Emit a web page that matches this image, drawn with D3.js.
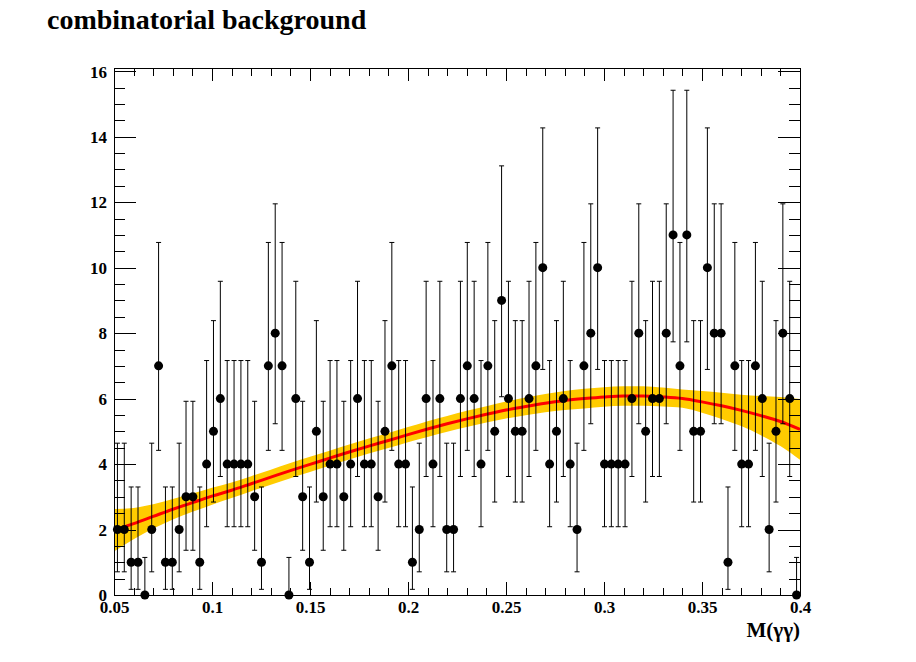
<!DOCTYPE html>
<html>
<head>
<meta charset="utf-8">
<script src="https://cdn.jsdelivr.net/npm/d3@7"></script>
<style>
  body { margin: 0; background: #fff; }
  svg { display: block; }
  text { font-family: "Liberation Serif", "Times New Roman", serif; font-weight: bold; fill: #000; }
</style>
</head>
<body>
<div id="chart"></div>
<script>
// histogram: 100 bins between 0.05 and 0.4
const binLow = 0.05
const binHigh = 0.4
const counts = [
  2, 2, 1, 1, 0, 2, 7, 1, 1, 2, 3, 3, 1, 4, 5, 6, 4,
  4, 4, 4, 3, 1, 7, 8, 7, 0, 6, 3, 1, 5, 3, 4, 4, 3,
  4, 6, 4, 4, 3, 5, 7, 4, 4, 1, 2, 6, 4, 6, 2, 2, 6,
  7, 6, 4, 7, 5, 9, 6, 5, 5, 6, 7, 10, 4, 5, 6, 4,
  2, 7, 8, 10, 4, 4, 4, 4, 6, 8, 5, 6, 6, 8, 11, 7, 11,
  5, 5, 10, 8, 8, 1, 7, 4, 4, 7, 6, 2, 5, 8, 6, 0
]

// 68% poisson interval per count (lower / upper edge of the error bar)
const poissonLow = [0, 0.173, 0.708, 1.367, 2.086, 2.840, 3.620, 4.419, 5.232, 6.057, 6.891, 7.734]
const poissonHigh = [1.148, 3.300, 4.638, 5.918, 7.163, 8.382, 9.584, 10.77, 11.95, 13.11, 14.27, 15.42]

// fitted curve and its error band
const fitX = [0.05, 0.06, 0.07, 0.08, 0.09, 0.10, 0.11, 0.12, 0.13, 0.14, 0.15, 0.16,
  0.17, 0.18, 0.19, 0.20, 0.21, 0.22, 0.23, 0.24, 0.25, 0.26, 0.27, 0.28,
  0.29, 0.30, 0.31, 0.32, 0.33, 0.34, 0.35, 0.36, 0.37, 0.38, 0.39, 0.40]
const fitY = [1.98, 2.18, 2.4, 2.62, 2.82, 3.02, 3.2, 3.4, 3.6, 3.8, 3.99, 4.18,
  4.37, 4.55, 4.72, 4.9, 5.07, 5.23, 5.38, 5.52, 5.65, 5.76, 5.86, 5.94,
  6.0, 6.05, 6.08, 6.08, 6.05, 6.0, 5.9, 5.78, 5.64, 5.48, 5.3, 5.06]
const fitErr = [0.65, 0.48, 0.37, 0.31, 0.28, 0.26, 0.24, 0.23, 0.23, 0.23, 0.23, 0.23,
  0.23, 0.23, 0.23, 0.23, 0.24, 0.24, 0.25, 0.25, 0.26, 0.27, 0.28, 0.29,
  0.3, 0.3, 0.3, 0.3, 0.29, 0.28, 0.33, 0.4, 0.48, 0.6, 0.75, 0.93]

const xTicks = [0.05, 0.1, 0.15, 0.2, 0.25, 0.3, 0.35, 0.4]
const xTickLabels = ['0.05', '0.1', '0.15', '0.2', '0.25', '0.3', '0.35', '0.4']
const yTicks = [0, 2, 4, 6, 8, 10, 12, 14, 16]
const yTickLabels = ['0', '2', '4', '6', '8', '10', '12', '14', '16']

const width = 916
const height = 662
const frameLeft = 114, frameRight = 800, frameTop = 68, frameBottom = 595
const serif = '"Liberation Serif", "Times New Roman", serif'

const svg = d3.select('#chart').append('svg')
  .attr('width', width)
  .attr('height', height)
  .attr('font-family', serif)

svg.append('rect').attr('width', width).attr('height', height).attr('fill', '#fff')

const x = d3.scaleLinear().domain([binLow, binHigh]).range([frameLeft, frameRight])
const y = d3.scaleLinear().domain([0, 16.1]).range([frameBottom, frameTop])

const binWidth = (binHigh - binLow) / counts.length
const points = counts.map((c, i) => ({ x: binLow + binWidth * (i + 0.5), n: c }))

// error band
const fit = fitX.map((v, i) => ({ x: v, y: fitY[i], e: fitErr[i] }))

svg.append('path')
  .datum(fit)
  .attr('fill', '#ffcc00')
  .attr('d', d3.area()
    .curve(d3.curveMonotoneX)
    .x(d => x(d.x))
    .y0(d => y(d.y - d.e))
    .y1(d => y(d.y + d.e)))

svg.append('path')
  .datum(fit)
  .attr('fill', 'none')
  .attr('stroke', '#ff0000')
  .attr('stroke-width', 3)
  .attr('d', d3.line()
    .curve(d3.curveMonotoneX)
    .x(d => x(d.x))
    .y(d => y(d.y)))

// data points with error bars
const pts = svg.append('g')
const cap = 2.5

pts.selectAll('line.bar')
  .data(points)
  .enter()
  .append('line')
  .attr('class', 'bar')
  .attr('x1', d => x(d.x)).attr('x2', d => x(d.x))
  .attr('y1', d => y(poissonLow[d.n])).attr('y2', d => y(poissonHigh[d.n]))
  .attr('stroke', '#000')
  .attr('stroke-width', 1)

pts.selectAll('line.capHi')
  .data(points)
  .enter()
  .append('line')
  .attr('class', 'capHi')
  .attr('x1', d => x(d.x) - cap).attr('x2', d => x(d.x) + cap)
  .attr('y1', d => y(poissonHigh[d.n])).attr('y2', d => y(poissonHigh[d.n]))
  .attr('stroke', '#000')

pts.selectAll('line.capLo')
  .data(points.filter(d => d.n > 0))
  .enter()
  .append('line')
  .attr('class', 'capLo')
  .attr('x1', d => x(d.x) - cap).attr('x2', d => x(d.x) + cap)
  .attr('y1', d => y(poissonLow[d.n])).attr('y2', d => y(poissonLow[d.n]))
  .attr('stroke', '#000')

pts.selectAll('circle')
  .data(points)
  .enter()
  .append('circle')
  .attr('cx', d => x(d.x))
  .attr('cy', d => y(d.n))
  .attr('r', 4.5)
  .attr('fill', '#000')

// axes, ticks inside on all four sides
const xMinor = d3.range(5, 41).map(i => i / 100).filter(v => Math.round(v * 100) % 5 !== 0)
const yMinor = d3.range(1, 33).map(i => i / 2).filter(v => v % 2 !== 0)

const axes = svg.append('g').attr('shape-rendering', 'crispEdges')

const addAxis = (axis, transform) => {
  const g = axes.append('g').attr('transform', transform).call(axis)
  g.select('.domain').remove()
  g.selectAll('line').attr('stroke', '#000')
  g.attr('font-family', serif).attr('font-size', null)
  g.selectAll('text').style('font-size', '17px')
  return g
}

addAxis(d3.axisBottom(x).tickValues(xTicks).tickSize(-13).tickPadding(6)
  .tickFormat((d, i) => xTickLabels[i]), `translate(0,${frameBottom})`)
addAxis(d3.axisBottom(x).tickValues(xMinor).tickSize(-7.5).tickFormat(''), `translate(0,${frameBottom})`)
addAxis(d3.axisTop(x).tickValues(xTicks).tickSize(-13).tickFormat(''), `translate(0,${frameTop})`)
addAxis(d3.axisTop(x).tickValues(xMinor).tickSize(-7.5).tickFormat(''), `translate(0,${frameTop})`)

const yl = addAxis(d3.axisLeft(y).tickValues(yTicks).tickSize(-22).tickPadding(7)
  .tickFormat((d, i) => yTickLabels[i]), `translate(${frameLeft},0)`)
yl.selectAll('text').attr('dy', '0.34em')
addAxis(d3.axisLeft(y).tickValues(yMinor).tickSize(-11).tickFormat(''), `translate(${frameLeft},0)`)
addAxis(d3.axisRight(y).tickValues(yTicks).tickSize(-22).tickFormat(''), `translate(${frameRight},0)`)
addAxis(d3.axisRight(y).tickValues(yMinor).tickSize(-11).tickFormat(''), `translate(${frameRight},0)`)

axes.append('rect')
  .attr('x', frameLeft).attr('y', frameTop)
  .attr('width', frameRight - frameLeft).attr('height', frameBottom - frameTop)
  .attr('fill', 'none')
  .attr('stroke', '#000')

// titles
svg.append('text')
  .attr('x', 47)
  .attr('y', 29)
  .style('font-size', '28px')
  .text('combinatorial background')

svg.append('text')
  .attr('x', frameRight)
  .attr('y', 637)
  .attr('text-anchor', 'end')
  .style('font-size', '21px')
  .text('M(γγ)')
</script>
</body>
</html>
